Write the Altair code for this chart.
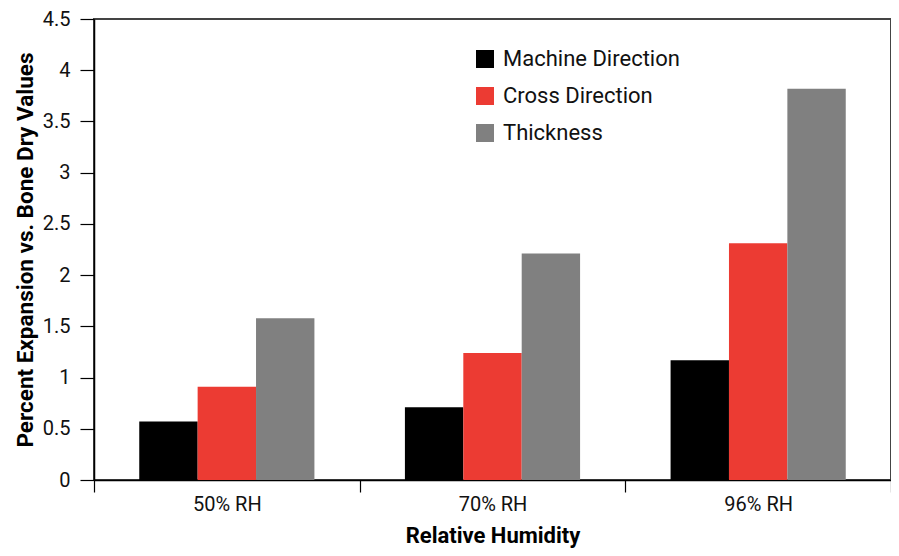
import altair as alt
import pandas as pd

categories = ["50% RH", "70% RH", "96% RH"]
series = ["Machine Direction", "Cross Direction", "Thickness"]
machine = [0.57, 0.71, 1.17]
cross = [0.91, 1.24, 2.31]
thickness = [1.58, 2.21, 3.82]
colors = ["#000000", "#EC3B33", "#808080"]

rows = []
for i, c in enumerate(categories):
    for s, vals in zip(series, [machine, cross, thickness]):
        rows.append({"RH": c, "Series": s, "Value": vals[i]})
df = pd.DataFrame(rows)

FONT = "Roboto, sans-serif"

chart = alt.Chart(df).mark_bar().encode(
    x=alt.X("RH:N", sort=categories,
            scale=alt.Scale(paddingInner=0, paddingOuter=0),
            axis=alt.Axis(title="Relative Humidity", labelAngle=0, tickBand="extent",
                          tickSize=12, labelPadding=2, titlePadding=11, titleFontSize=22,
                          domainColor="black", tickColor="black", labelColor="#111")),
    xOffset=alt.XOffset("Series:N", sort=series,
                        scale=alt.Scale(paddingOuter=0.775, paddingInner=0)),
    y=alt.Y("Value:Q", scale=alt.Scale(domain=[0, 4.5]),
            axis=alt.Axis(title="Percent Expansion vs. Bone Dry Values",
                          values=[0, 0.5, 1, 1.5, 2, 2.5, 3, 3.5, 4, 4.5],
                          format=".1~f", titleFontSize=22.5,
                          tickSize=14, labelPadding=10, grid=False, titlePadding=5,
                          domainColor="black", tickColor="black", labelColor="#111")),
    color=alt.Color("Series:N", sort=series,
                    scale=alt.Scale(domain=series, range=colors),
                    legend=alt.Legend(title=None, orient="none", legendX=380, legendY=29,
                                      symbolType="square", symbolSize=324,
                                      symbolStrokeWidth=0, labelFontSize=22,
                                      labelOffset=7, rowPadding=15, labelFont=FONT,
                                      labelLimit=0, labelColor="#111")),
).properties(
    width=797, height=461,
    padding={"left": 86, "top": 11, "right": 0, "bottom": 68},
    autosize=alt.AutoSizeParams(type="none"),
).configure_view(
    stroke="#444", strokeWidth=2
).configure_axis(
    labelFont=FONT, titleFont=FONT, labelFontSize=20,
    titleFontWeight="bold", titleColor="black", domainWidth=1.5, tickWidth=1.2
)

chart.save("out.html", embed_options={"renderer": "svg", "actions": False})
